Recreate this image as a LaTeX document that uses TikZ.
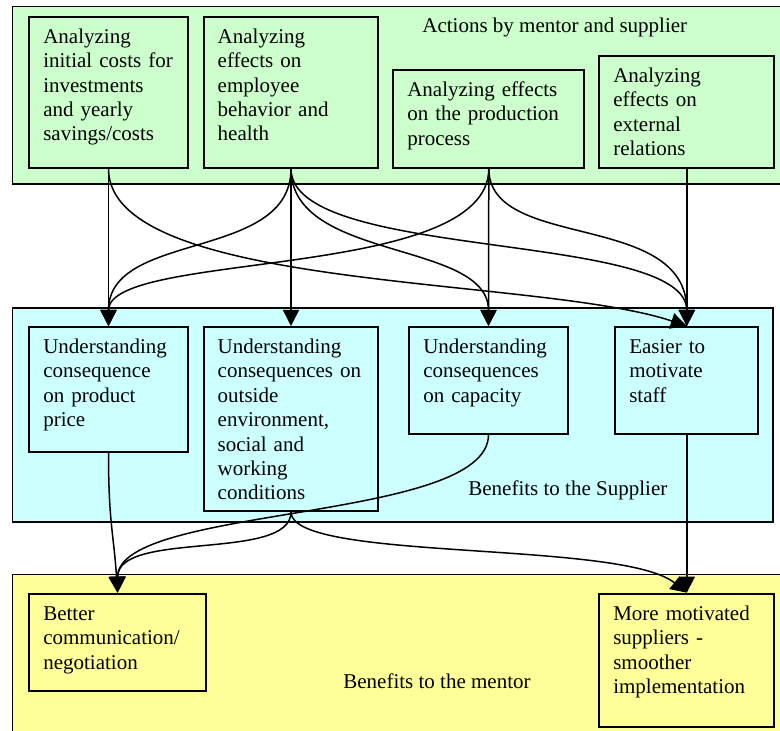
\documentclass[tikz,border=0pt]{standalone}
\usepackage{fontspec}
\setmainfont{Liberation Serif}
\usetikzlibrary{arrows.meta}
\definecolor{actgreen}{HTML}{CCFFCC}
\definecolor{supcyan}{HTML}{CCFFFF}
\definecolor{menyellow}{HTML}{FFFF99}
\begin{document}
\begin{tikzpicture}[x=0.5pt,y=-0.5pt,
  box/.style={draw,line width=1pt,anchor=north west,align=left,inner xsep=7pt,inner ysep=0pt,text height=13.3pt,font=\fontsize{10.5}{12.2}\selectfont},
  band/.style={draw,line width=0.8pt},
  title/.style={anchor=base west,inner sep=0pt,font=\fontsize{10.5}{12.2}\selectfont},
  link/.style={line width=0.75pt,-{Triangle[width=8pt,length=8pt]}}]
\useasboundingbox (0,0) rectangle (780,731);
\filldraw[band,fill=actgreen] (12.5,6.5) rectangle (792,184);
\filldraw[band,fill=supcyan] (12.5,308) rectangle (773,522);
\filldraw[band,fill=menyellow] (12.5,574.5) rectangle (792,745);

\node[title] (acttitle) at (422,33) {Actions by mentor and supplier};
\node[title] (suptitle) at (468,495) {Benefits to the Supplier};
\node[title] (mentitle) at (343,688) {Benefits to the mentor};

\node[box,fill=actgreen,text width=65.2pt,text depth=62.2pt] (a1) at (28.3,15.7) {Analyzing\\initial costs for\\investments\\and yearly\\savings/costs};
\node[box,fill=actgreen,text width=73.3pt,text depth=62.2pt] (a2) at (202.7,15.7) {Analyzing\\effects on\\employee\\behavior and\\health};
\node[box,fill=actgreen,text width=81.5pt,text depth=35.5pt] (a3) at (392.3,69) {Analyzing effects\\on the production\\process};
\node[box,fill=actgreen,text width=73.5pt,text depth=42.5pt] (a4) at (598.3,55) {Analyzing\\effects on\\external\\relations};

\node[box,fill=supcyan,text width=65.2pt,text depth=49pt] (b1) at (28.3,326) {Understanding\\consequence\\on product\\price};
\node[box,fill=supcyan,text width=73.3pt,text depth=78.7pt] (b2) at (202.7,326) {Understanding\\consequences on\\outside\\environment,\\social and\\working\\conditions};
\node[box,fill=supcyan,text width=65.2pt,text depth=40pt] (b3) at (408.3,326) {Understanding\\consequences\\on capacity};
\node[box,fill=supcyan,text width=57.5pt,text depth=40pt] (b4) at (614.3,326) {Easier to\\motivate\\staff};

\node[box,fill=menyellow,text width=74.3pt,text depth=35.3pt] (c1) at (28.3,592.7) {Better\\communication/\\negotiation};
\node[box,fill=menyellow,text width=73.5pt,text depth=53.2pt] (c2) at (598.3,592.7) {More motivated\\suppliers -\\smoother\\implementation};

\foreach \s/\t in {a1/b1,a2/b2,a3/b3,a4/b4,b4/c2}
  \draw[link] (\s.south) -- (\t.north);
\draw[link] (a1.south) .. controls +(0,123) and +(-150,-50) .. (b4.north);
\draw[link] (a2.south) .. controls +(0,93) and +(0,-96) .. (b1.north);
\draw[link] (a2.south) .. controls +(0,93) and +(0,-86) .. (b3.north);
\draw[link] (a2.south) .. controls +(0,93) and +(0,-96) .. (b4.north);
\draw[link] (a3.south) .. controls +(0,113) and +(0,-76) .. (b1.north);
\draw[link] (a3.south) .. controls +(0,83) and +(0,-116) .. (b4.north);
\draw[link] (b1.south) .. controls +(0,70) and +(-4,-60) .. (c1.north);
\draw[link] (b2.south) .. controls +(0,50) and +(0,-63) .. (c1.north);
\draw[link] (b3.south) .. controls +(0,88) and +(0,-88) .. (c1.north);
\draw[link] (b2.south) .. controls +(0,50) and +(-66,-53) .. (c2.north);
\end{tikzpicture}
\end{document}
